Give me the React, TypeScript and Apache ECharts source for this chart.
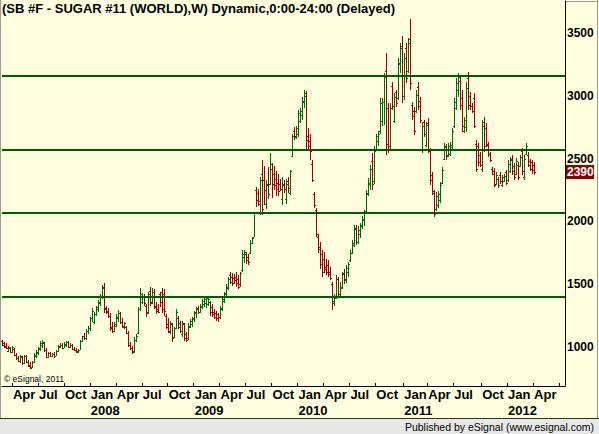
import React, { useEffect, useRef } from "react";
import * as echarts from "echarts";

const TITLE = "(SB #F - SUGAR #11 (WORLD),W) Dynamic,0:00-24:00 (Delayed)";
const FOOTER = "Published by eSignal (www.esignal.com)";
const COPYRIGHT = "\u00A9 eSignal, 2011";
const FIRST_WEEK = "2007-03-02";
const TOTAL_WEEKS = 282;
const MONTHS = ["Jan", "Feb", "Mar", "Apr", "May", "Jun", "Jul", "Aug", "Sep", "Oct", "Nov", "Dec"];
const Y_TICKS = [1000, 1500, 2000, 2500, 3000, 3500];
const LEVELS = [3160, 2570, 2070, 1400];

// weekly bars: [open, high, low, close]
const ohlc2007 = [
  [1050,1056,1010,1020],[1030,1040,995,1000],[1010,1030,985,990],[970,1010,960,1000],
  [995,1000,950,960],[960,1010,955,1000],[985,990,930,940],[940,950,900,910],
  [915,930,880,890],[890,935,870,925],[920,930,860,870],[870,940,865,930],
  [925,935,870,880],[880,900,840,850],[855,880,825,835],[840,890,830,880],
  [880,950,870,940],[930,975,910,960],[955,1000,940,990],[985,1050,970,1030],
  [1020,1055,990,1040],[1035,1040,960,975],[975,990,910,920],[920,960,910,950],
  [950,960,920,930],[930,955,920,945],[945,960,915,925],[930,975,925,965],
  [965,1020,960,1005],[1000,1035,990,1020],[1020,1030,985,995],[995,1040,990,1025],
  [1020,1050,1000,1040],[1040,1045,990,1000],[1000,1030,990,1020],[1020,1025,975,985],
  [985,1000,965,975],[975,990,955,965],[960,985,950,980],[980,1060,975,1050],
  [1050,1090,1040,1085],[1090,1110,1060,1070],[1070,1140,1060,1130],[1130,1165,1100,1150],
];
const ohlc2008 = [
  [1150,1240,1130,1230],[1230,1310,1200,1290],[1200,1280,1180,1260],[1260,1330,1250,1320],
  [1300,1375,1280,1360],[1350,1420,1330,1400],[1400,1493,1380,1470],[1480,1510,1270,1300],
  [1310,1330,1260,1280],[1290,1310,1230,1250],[1250,1270,1130,1150],[1160,1200,1110,1130],
  [1130,1200,1120,1180],[1170,1260,1160,1240],[1230,1295,1200,1270],[1270,1280,1180,1200],
  [1200,1230,1150,1170],[1160,1200,1140,1190],[1160,1170,1100,1110],[1110,1130,1000,1020],
  [1020,1040,975,990],[995,1010,944,960],[965,1080,955,1060],[1060,1100,1040,1090],
  [1110,1320,1100,1300],[1300,1470,1290,1420],[1360,1430,1340,1410],[1400,1420,1330,1350],
  [1330,1340,1240,1270],[1280,1440,1260,1420],[1450,1480,1330,1360],[1350,1470,1340,1440],
  [1440,1460,1300,1320],[1330,1360,1260,1290],[1300,1340,1270,1280],[1420,1440,1320,1360],
  [1440,1470,1270,1300],[1420,1460,1250,1290],[1250,1260,1140,1160],[1180,1230,1110,1130],
  [1120,1210,1100,1190],[1180,1190,1040,1070],[1080,1160,1070,1150],[1150,1300,1140,1280],
  [1230,1250,1140,1160],[1190,1210,1110,1130],[1100,1210,1080,1190],[1180,1190,1050,1070],
  [1100,1120,1040,1060],[1070,1190,1060,1170],[1160,1220,1150,1210],[1180,1240,1160,1230],
];
const ohlc2009 = [
  [1220,1290,1200,1280],[1270,1320,1230,1300],[1310,1330,1260,1280],[1280,1340,1270,1330],
  [1320,1380,1300,1370],[1340,1390,1320,1380],[1350,1400,1310,1390],[1340,1398,1330,1380],
  [1360,1370,1250,1280],[1320,1340,1240,1260],[1280,1300,1220,1240],[1270,1290,1210,1230],
  [1260,1270,1200,1240],[1240,1330,1220,1310],[1300,1400,1290,1380],[1370,1440,1350,1430],
  [1420,1500,1400,1480],[1470,1557,1454,1540],[1570,1597,1500,1520],[1560,1590,1490,1510],
  [1550,1580,1500,1530],[1560,1595,1480,1510],[1540,1570,1460,1480],[1500,1600,1480,1590],
  [1610,1772,1600,1740],[1720,1770,1670,1760],[1740,1760,1660,1690],[1720,1740,1650,1680],
  [1750,1852,1740,1830],[1830,1880,1820,1870],[1880,2075,1875,2070],[2250,2274,2115,2170],
  [2230,2260,2120,2160],[2140,2353,2050,2330],[2380,2489,2050,2100],[2330,2440,2130,2250],
  [2140,2330,2100,2290],[2300,2430,2180,2220],[2300,2544,2290,2460],[2420,2465,2186,2300],
  [2380,2440,2250,2290],[2340,2400,2200,2260],[2310,2380,2200,2240],[2300,2340,2240,2260],
  [2180,2353,2130,2290],[2300,2330,2230,2260],[2180,2340,2140,2300],[2320,2350,2230,2270],
  [2230,2409,2210,2400],[2520,2700,2512,2680],[2720,2750,2648,2680],[2670,2760,2660,2740],
];
const ohlc2010 = [
  [2700,2887,2672,2860],[2800,2900,2780,2880],[2850,2990,2807,2960],[2950,3046,2900,3020],
  [3000,3040,2570,2650],[2680,2740,2560,2600],[2640,2700,2489,2560],[2460,2489,2314,2330],
  [2220,2234,2107,2130],[2090,2107,1876,1900],[1880,1900,1750,1780],[1800,1840,1620,1660],
  [1740,1772,1557,1600],[1700,1760,1590,1620],[1640,1700,1570,1600],[1650,1690,1560,1580],
  [1600,1640,1530,1550],[1500,1517,1295,1370],[1350,1420,1330,1400],[1390,1570,1380,1540],
  [1540,1560,1390,1420],[1410,1520,1400,1480],[1470,1600,1460,1580],[1590,1620,1500,1540],
  [1530,1650,1510,1630],[1600,1677,1560,1660],[1690,1770,1680,1750],[1750,1850,1740,1830],
  [1810,1971,1800,1950],[1940,1970,1810,1840],[1840,1960,1820,1930],[1900,1990,1870,1970],
  [1960,2040,1940,2020],[2010,2091,1960,2070],[2080,2250,2067,2230],[2220,2345,2200,2310],
  [2300,2449,2250,2420],[2480,2544,2250,2300],[2320,2600,2300,2560],[2580,2700,2568,2680],
  [2640,2720,2600,2700],[2720,2980,2700,2940],[2800,2980,2760,2950],[2950,3180,2770,3150],
  [3200,3340,2530,2620],[2900,2940,2545,2580],[2600,2940,2560,2900],[3080,3110,2887,2920],
  [2800,3020,2780,2990],[3030,3046,2910,2940],[2980,3300,2966,3260],[3250,3420,3180,3380],
  [3400,3480,2940,3000],
];
const ohlc2011 = [
  [3000,3340,2966,3300],[3380,3420,3100,3140],[3200,3460,3180,3420],[3450,3610,3046,3100],
  [2930,2950,2807,2840],[2880,2910,2690,2720],[2880,3046,2863,3010],[3070,3110,2887,2920],
  [2960,2990,2783,2810],[2570,2790,2545,2760],[2790,2807,2672,2700],[2610,2790,2590,2770],
  [2780,2820,2544,2580],[2560,2584,2290,2330],[2370,2393,2210,2240],[2230,2250,2035,2060],
  [2100,2234,2080,2200],[2130,2240,2110,2220],[2170,2313,2146,2290],[2310,2433,2300,2410],
  [2500,2624,2489,2590],[2600,2620,2490,2520],[2530,2624,2512,2600],[2540,2630,2520,2610],
  [2590,2743,2568,2720],[2760,2980,2743,2950],[2900,3140,2887,3100],[3050,3180,2990,3150],
  [3120,3165,2887,2930],[2980,3046,2711,2760],[2720,2830,2703,2810],[2750,3110,2710,3060],
  [3140,3190,2887,2930],[3000,3030,2887,2920],[2920,2940,2860,2880],[2980,3020,2740,2760],
  [2620,2648,2393,2420],[2600,2624,2440,2470],[2530,2552,2433,2450],[2420,2807,2393,2760],
  [2790,2830,2552,2600],[2740,2783,2592,2620],[2610,2632,2512,2540],[2540,2552,2473,2490],
  [2420,2433,2369,2380],[2400,2425,2274,2290],[2300,2393,2290,2370],[2340,2353,2266,2290],
  [2370,2393,2300,2320],[2290,2369,2274,2350],[2320,2380,2313,2360],[2390,2409,2290,2310],
];
const ohlc2012 = [
  [2330,2489,2313,2460],[2400,2512,2385,2490],[2500,2528,2369,2400],[2440,2465,2329,2350],
  [2380,2505,2369,2480],[2450,2470,2329,2350],[2440,2528,2433,2510],[2560,2584,2369,2400],
  [2350,2528,2329,2500],[2540,2624,2528,2600],[2530,2552,2433,2450],[2480,2500,2400,2420],
  [2470,2489,2380,2410],[2450,2473,2370,2390],
];

const GREEN = "#006a00";
const RED = "#9a0000";
const LEVEL_COLOR = "#005c00";
const BG = "#FFFFE0";
const FONT = "'Liberation Sans', Arial, sans-serif";

function weekDates(): Date[] {
  const start = new Date(FIRST_WEEK + "T00:00:00Z");
  const out: Date[] = [];
  for (let k = 0; k < TOTAL_WEEKS; k++) out.push(new Date(start.getTime() + k * 7 * 86400000));
  return out;
}

export default function App() {
  const ref = useRef<HTMLDivElement>(null);
  useEffect(() => {
    if (!ref.current) return;
    const chart = echarts.init(ref.current, undefined, { renderer: "svg" });
    const dates = weekDates();
    const cats = dates.map((d) => d.toISOString().slice(0, 10));
    const isQuarterStart = (k: number) => {
      if (k <= 0 || k >= dates.length) return false;
      const m = dates[k].getUTCMonth();
      return m % 3 === 0 && m !== dates[k - 1].getUTCMonth();
    };
    const isYearStart = (k: number) => isQuarterStart(k) && dates[k].getUTCMonth() === 0;
    const rows = [...ohlc2007, ...ohlc2008, ...ohlc2009, ...ohlc2010, ...ohlc2011, ...ohlc2012];
    const data = rows.map((r, i) => [i, r[0], r[1], r[2], r[3]]);
    const lastIdx = data.length - 1;
    const labelFont = { fontFamily: FONT, fontWeight: "bold" as const, fontSize: 13, color: "#000" };

    chart.setOption({
      animation: false,
      backgroundColor: BG,
      title: {
        text: TITLE,
        left: 2,
        top: 2,
        padding: 0,
        textStyle: { fontFamily: FONT, fontWeight: "bold", fontSize: 13, color: "#000" },
      },
      grid: { left: 2, right: 34, top: 1, bottom: 48, containLabel: false },
      xAxis: [
        {
          type: "category",
          data: cats,
          boundaryGap: true,
          axisLine: { show: true, lineStyle: { color: "#000", width: 1 } },
          axisTick: {
            show: true,
            inside: true,
            length: 3,
            interval: (k: number) => isQuarterStart(k),
            lineStyle: { color: "#000" },
          },
          axisLabel: {
            show: true,
            interval: (k: number) => isQuarterStart(k) && k <= lastIdx + 4,
            showMinLabel: true,
            showMaxLabel: true,
            hideOverlap: false,
            align: "left",
            margin: 2,
            ...labelFont,
            formatter: (v: string) => MONTHS[parseInt(v.slice(5, 7), 10) - 1],
          },
          splitLine: { show: false },
        },
        {
          type: "category",
          data: cats,
          boundaryGap: true,
          position: "bottom",
          offset: 16,
          axisLine: { show: false },
          axisTick: { show: false },
          axisLabel: {
            show: true,
            interval: (k: number) => isYearStart(k),
            showMinLabel: true,
            showMaxLabel: true,
            hideOverlap: false,
            align: "left",
            margin: 2,
            ...labelFont,
            formatter: (v: string) => v.slice(0, 4),
          },
          splitLine: { show: false },
        },
      ],
      yAxis: {
        type: "value",
        position: "right",
        min: 690,
        max: 3755,
        axisLine: { show: true, lineStyle: { color: "#000", width: 1 } },
        axisTick: { show: false },
        splitLine: { show: false },
        axisLabel: {
          show: true,
          customValues: Y_TICKS,
          margin: 2,
          fontFamily: FONT,
          fontWeight: "bold",
          fontSize: 12,
          color: "#000",
          formatter: (v: number) => String(v),
        },
      },
      series: [
        {
          type: "custom",
          xAxisIndex: 0,
          data,
          encode: { x: 0, y: [1, 2, 3, 4] },
          clip: false,
          renderItem: (params: any, api: any) => {
            const idx = api.value(0);
            const o = api.value(1), h = api.value(2), l = api.value(3), c = api.value(4);
            const pH = api.coord([idx, h]);
            const pL = api.coord([idx, l]);
            const pO = api.coord([idx, o]);
            const pC = api.coord([idx, c]);
            const x = Math.floor(pH[0]);
            const yH = Math.round(pH[1]);
            const yL = Math.round(pL[1]);
            const color = c >= o ? GREEN : RED;
            const children: any[] = [
              { type: "rect", shape: { x, y: yH, width: 1, height: Math.max(1, yL - yH) }, style: { fill: color } },
              { type: "rect", shape: { x: x - 1, y: Math.round(pO[1]), width: 1, height: 1 }, style: { fill: color } },
              { type: "rect", shape: { x: x + 1, y: Math.round(pC[1]), width: 1, height: 1 }, style: { fill: color } },
            ];
            if (params.dataIndex === lastIdx) {
              const cs = params.coordSys;
              const tx = cs.x + cs.width + 1;
              const ty = Math.round(pC[1]);
              children.push({
                type: "rect",
                shape: { x: tx, y: ty - 7, width: 28, height: 14 },
                style: { fill: "#8B0000" },
              });
              children.push({
                type: "text",
                x: tx + 1,
                y: ty,
                style: {
                  text: String(c),
                  fill: "#fff",
                  font: "bold 12px " + FONT,
                  verticalAlign: "middle",
                  align: "left",
                },
              });
            }
            return { type: "group", children };
          },
          markLine: {
            silent: true,
            symbol: "none",
            label: { show: false },
            lineStyle: { color: LEVEL_COLOR, width: 2, type: "solid" },
            data: LEVELS.map((v) => ({ yAxis: v })),
          },
        },
      ],
      graphic: [
        { type: "rect", shape: { x: 0, y: 0, width: 1, height: 419 }, style: { fill: "#9a9a9a" }, z: 10 },
        { type: "rect", shape: { x: 597, y: 0, width: 1, height: 419 }, style: { fill: "#9a9a9a" }, z: 10 },
        { type: "rect", shape: { x: 566, y: 1, width: 31, height: 1 }, style: { fill: "#9a9a9a" }, z: 10 },
        { type: "rect", shape: { x: 0, y: 419, width: 599, height: 15 }, style: { fill: "#E8E8E8" }, z: 10 },
        { type: "rect", shape: { x: 0, y: 418, width: 599, height: 1 }, style: { fill: "#303030" }, z: 10 },
        {
          type: "text",
          x: 594,
          y: 427,
          z: 11,
          style: { text: FOOTER, fill: "#000", font: "10.5px " + FONT, align: "right", verticalAlign: "middle" },
        },
        {
          type: "text",
          x: 4,
          y: 379,
          z: 11,
          style: { text: COPYRIGHT, fill: "#000", font: "8.5px " + FONT, align: "left", verticalAlign: "middle" },
        },
      ],
    });
    return () => chart.dispose();
  }, []);
  return (
    <div
      ref={ref}
      style={{ position: "fixed", left: 0, top: 0, width: 599, height: 434 }}
    />
  );
}
